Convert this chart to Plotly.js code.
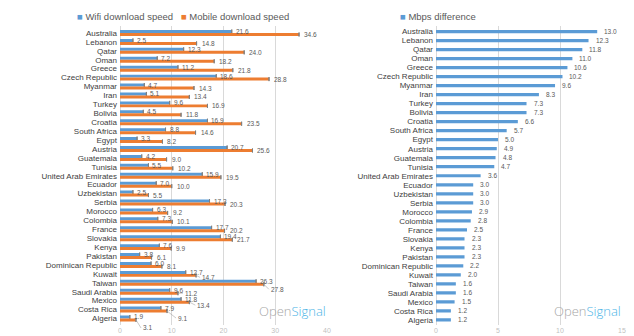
<!DOCTYPE html>
<html>
<head>
<meta charset="utf-8">
<script src="https://cdn.plot.ly/plotly-3.0.1.min.js"></script>
<style>html,body{margin:0;padding:0;background:#fff;}#chart{width:634px;height:336px;}</style>
</head>
<body>
<div id="chart"></div>
<script>
const countries = ["Australia","Lebanon","Qatar","Oman","Greece","Czech Republic","Myanmar","Iran","Turkey","Bolivia","Croatia","South Africa","Egypt","Austria","Guatemala","Tunisia","United Arab Emirates","Ecuador","Uzbekistan","Serbia","Morocco","Colombia","France","Slovakia","Kenya","Pakistan","Dominican Republic","Kuwait","Taiwan","Saudi Arabia","Mexico","Costa Rica","Algeria"];
const wifiSpeed = [21.6,2.5,12.3,7.2,11.2,18.6,4.7,5.1,9.6,4.5,16.9,8.8,3.3,20.7,4.2,5.5,15.9,7.0,2.5,17.3,6.3,7.3,17.7,19.4,7.6,3.8,6.0,12.7,26.3,9.6,11.8,7.9,1.9];
const mobileSpeed = [34.6,14.8,24.0,18.2,21.8,28.8,14.3,13.4,16.9,11.8,23.5,14.6,8.2,25.6,9.0,10.2,19.5,10.0,5.5,20.3,9.2,10.1,20.2,21.7,9.9,6.1,8.1,14.7,27.8,11.2,13.4,9.1,3.1];
const mbpsDiff = [13.0,12.3,11.8,11.0,10.6,10.2,9.6,8.3,7.3,7.3,6.6,5.7,5.0,4.9,4.8,4.7,3.6,3.0,3.0,3.0,2.9,2.8,2.5,2.3,2.3,2.3,2.2,2.0,1.6,1.6,1.5,1.2,1.2];
const leftTicks = [0,10,20,30,40];
const rightTicks = [0,5,10,15];
const seriesNames = ["Wifi download speed","Mobile download speed","Mbps difference"];

const BLUE = "#5B9BD5", ORANGE = "#ED7D31", GRID = "#D9D9D9", TXT = "#404040", VAL = "#595959";
const SANS = "Liberation Sans, Arial, sans-serif";

// leader-line offsets for crowded mobile labels [ax, ay]
const leaderOffsets = {"Kuwait":[4,2],"Taiwan":[5,5],"Saudi Arabia":[5,0],"Mexico":[6,3],"Costa Rica":[9,7],"Algeria":[5,8]};

const zeros = countries.map(() => 0);
const traces = [
  {type:"bar", orientation:"h", name:seriesNames[0], y:countries, x:wifiSpeed, xaxis:"x", yaxis:"y",
   marker:{color:BLUE}, showlegend:false, hoverinfo:"skip",
   error_x:{type:"data", array:zeros, visible:true, width:2, thickness:1, color:"#7F7F7F"}},
  {type:"bar", orientation:"h", name:seriesNames[1], y:countries, x:mobileSpeed, xaxis:"x", yaxis:"y",
   marker:{color:ORANGE}, showlegend:false, hoverinfo:"skip",
   error_x:{type:"data", array:zeros, visible:true, width:2, thickness:1, color:"#7F7F7F"}},
  {type:"bar", orientation:"h", name:seriesNames[2], y:countries, x:mbpsDiff, xaxis:"x2", yaxis:"y2",
   marker:{color:BLUE}, showlegend:false, hoverinfo:"skip", width:0.36}
];

const vfont = {family:SANS, size:6.5, color:VAL};
const annotations = [];
countries.forEach((c, i) => {
  annotations.push({xref:"x", yref:"y", x:wifiSpeed[i], y:c, text:wifiSpeed[i].toFixed(1),
    showarrow:false, xanchor:"left", xshift:2, yshift:1.5, font:vfont});
  const lo = leaderOffsets[c];
  if (lo) {
    annotations.push({xref:"x", yref:"y", x:mobileSpeed[i], y:c, text:mobileSpeed[i].toFixed(1),
      showarrow:true, arrowhead:0, arrowwidth:0.6, arrowcolor:"#A6A6A6", ax:lo[0], ay:lo[1], xanchor:"left",
      yshift:-1.5, standoff:0, font:vfont});
  } else {
    annotations.push({xref:"x", yref:"y", x:mobileSpeed[i], y:c, text:mobileSpeed[i].toFixed(1),
      showarrow:false, xanchor:"left", xshift:3, yshift:-1.5, font:vfont});
  }
  annotations.push({xref:"x2", yref:"y2", x:mbpsDiff[i], y:c, text:mbpsDiff[i].toFixed(1),
    showarrow:false, xanchor:"left", xshift:5, font:vfont});
});

// legends
annotations.push({xref:"paper", yref:"paper", x:75/634, y:1-16/336, xanchor:"left", yanchor:"middle", showarrow:false,
  text:'<span style="color:'+BLUE+'">■</span> '+seriesNames[0]+'   <span style="color:'+ORANGE+'">■</span> '+seriesNames[1],
  font:{family:SANS, size:9.5, color:"#595959"}});
annotations.push({xref:"paper", yref:"paper", x:398/634, y:1-16/336, xanchor:"left", yanchor:"middle", showarrow:false,
  text:'<span style="color:'+BLUE+'">■</span> '+seriesNames[2],
  font:{family:SANS, size:9.5, color:"#595959"}});
// watermarks
const wm = '<span style="color:#A6A6A6">Open</span><span style="color:#4BB4E6">Signal</span>';
annotations.push({xref:"paper", yref:"paper", x:328/634, y:1-311/336, xanchor:"right", yanchor:"middle", showarrow:false,
  text:wm, font:{family:"Open Sans, sans-serif", size:13, weight:300}});
annotations.push({xref:"paper", yref:"paper", x:623/634, y:1-311/336, xanchor:"right", yanchor:"middle", showarrow:false,
  text:wm, font:{family:"Open Sans, sans-serif", size:13, weight:300}});

const yCommon = {type:"category", autorange:"reversed", showgrid:false, zeroline:false, showline:false, ticks:"",
  tickmode:"array", tickvals:countries, ticktext:countries,
  tickfont:{family:SANS, size:8, color:TXT}, ticklabelstandoff:2, domain:[0.0313, 0.9226], fixedrange:true};
const xCommon = {showgrid:true, gridcolor:GRID, gridwidth:1, zeroline:true, zerolinecolor:GRID, showline:false, ticks:"",
  ticklabelstandoff:0, tickfont:{family:SANS, size:7, color:"#BFBFBF"}};

const layout = {
  width:634, height:336, margin:{l:0, r:0, t:0, b:0},
  paper_bgcolor:"#ffffff", plot_bgcolor:"#ffffff",
  barmode:"group", bargap:0.33, bargroupgap:0,
  showlegend:false,
  xaxis:Object.assign({}, xCommon, {domain:[120/634, 327/634], range:[0,40], tickvals:leftTicks, anchor:"y"}),
  yaxis:Object.assign({}, yCommon, {anchor:"x"}),
  xaxis2:Object.assign({}, xCommon, {domain:[436/634, 622/634], range:[0,15], tickvals:rightTicks, anchor:"y2"}),
  yaxis2:Object.assign({}, yCommon, {anchor:"x2"}),
  annotations:annotations
};

Plotly.newPlot("chart", traces, layout, {displayModeBar:false, staticPlot:true});
</script>
</body>
</html>
